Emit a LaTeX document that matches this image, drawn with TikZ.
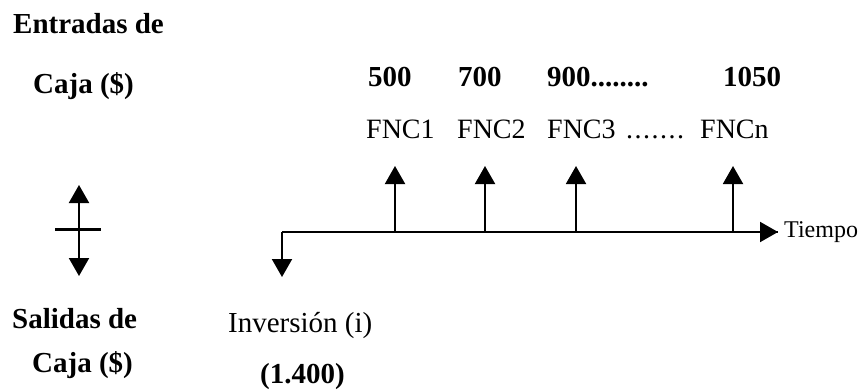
\documentclass[tikz,border=0pt]{standalone}
\usepackage{fontspec}
\setmainfont{Liberation Serif}
\usetikzlibrary{arrows.meta}
\begin{document}
\begin{tikzpicture}[x=1pt,y=-1pt,
  lbl/.style={anchor=base west,inner sep=0pt,font=\fontsize{28}{34}\selectfont},
  blbl/.style={anchor=base west,inner sep=0pt,font=\fontsize{29}{34}\selectfont\bfseries},
  small/.style={anchor=base west,inner sep=0pt,font=\fontsize{24}{28}\selectfont},
  arr/.style={line width=2pt,-{Triangle[width=20pt,length=18pt]}},
  bar/.style={line width=3pt}]
\useasboundingbox (0,0) rectangle (864,389);
% headings
\node[blbl] (ent) at (13,33) {Entradas de};
\node[blbl] (caja1) at (33,93) {Caja (\$)};
\node[blbl] (sal) at (12,328) {Salidas de};
\node[blbl] (caja2) at (32,372) {Caja (\$)};
% amounts
\node[blbl] (v1) at (368,86) {500};
\node[blbl] (v2) at (458,86) {700};
\node[blbl] (v3) at (547,86) {900........};
\node[blbl] (v4) at (723,86) {1050};
\node[lbl] (f1) at (366,138) {FNC1};
\node[lbl] (f2) at (457,138) {FNC2};
\node[lbl] (f3) at (547,138) {FNC3};
\node[lbl] (fd) at (626,138) {.\kern1.5pt.\kern1.5pt.\kern1.5pt.\kern1.5pt.\kern1.5pt.\kern1.5pt.};
\node[lbl] (fn) at (700,138) {FNCn};
\node[lbl,font=\fontsize{29}{34}\selectfont] (inv) at (228,332) {Inversión (i)};
\node[blbl] (amt) at (260,383) {(1.400)};
% legend symbol
\coordinate (s0) at (79,229);
\coordinate (sU) at (79,185);
\coordinate (sD) at (79,276);
\coordinate (sL) at (55,229);
\coordinate (sR) at (101,229);
\draw[bar] (sL) -- (sR);
\draw[arr] (s0) -- (sU);
\draw[arr] (s0) -- (sD);
% time line
\coordinate (o) at (282,232);
\coordinate (oD) at (282,277);
\coordinate (t1) at (395,232);
\coordinate (t2) at (485,232);
\coordinate (t3) at (576,232);
\coordinate (t4) at (733,232);
\coordinate (tE) at (778,232);
\coordinate (top) at (0,166);
\draw[line width=2pt] (o) -- (tE);
\draw[arr] (t4) -- (tE);
\node[small,anchor=west] (tiempo) at ([xshift=6pt]tE) {Tiempo};
\draw[arr] (o) -- (oD);
\draw[arr] (t1) -- (t1 |- top);
\draw[arr] (t2) -- (t2 |- top);
\draw[arr] (t3) -- (t3 |- top);
\draw[arr] (t4) -- (t4 |- top);
\end{tikzpicture}
\end{document}
